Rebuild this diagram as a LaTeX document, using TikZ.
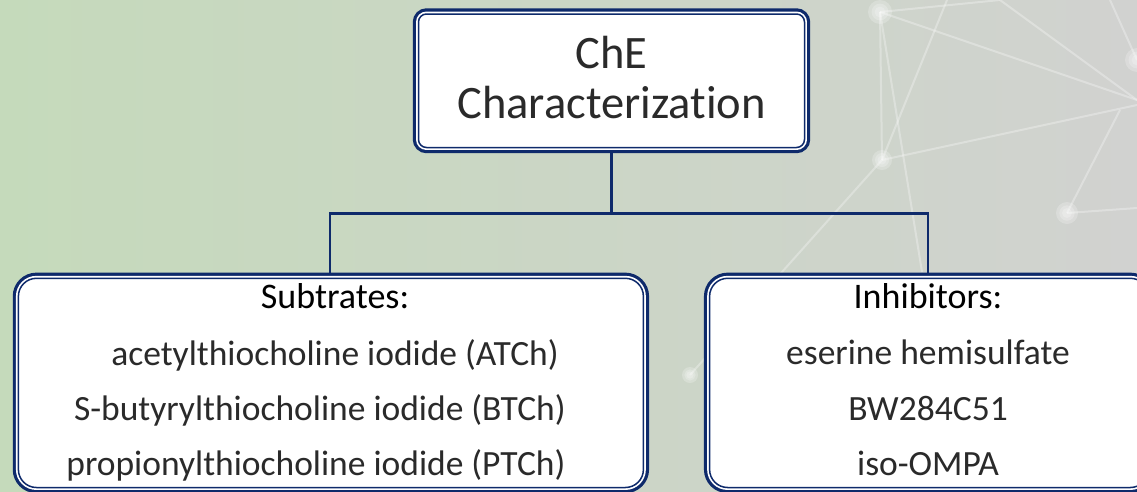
\documentclass[tikz,border=0pt]{standalone}
\usepackage{fontspec}
\setmainfont{Carlito}[Ligatures={NoCommon}]
\definecolor{navy}{HTML}{0E2A6B}
\definecolor{bgL}{HTML}{C5DABB}
\definecolor{bgM}{HTML}{C9D5C2}
\definecolor{bgR}{HTML}{D1D2D0}
\definecolor{bodytext}{HTML}{2A2A2A}
\pgfdeclarelayer{back}
\pgfdeclarelayer{links}
\pgfsetlayers{back,links,main}
\begin{document}
\begin{tikzpicture}[x=1pt,y=-1pt,
  chebox/.style={draw=navy, line width=1.5pt, fill=white, inner sep=0pt,
    preaction={draw=navy, line width=11.3pt},
    preaction={draw=white, line width=4.9pt}},
  link/.style={draw=navy, line width=2.6pt},
  bigtxt/.style={anchor=base, inner sep=0pt, font=\fontsize{46.5}{50}\selectfont, text=bodytext},
  headtxt/.style={anchor=base, inner sep=0pt, font=\fontsize{36}{40}\selectfont, text=black},
  itemtxt/.style={anchor=base, inner sep=0pt, font=\fontsize{35.5}{40}\selectfont, text=bodytext},
  netline/.style={draw=white, line width=2pt, opacity=0.3},
  glow/.style={fill=white, opacity=0.22}
]
\useasboundingbox (0,0) rectangle (1137,491);
\begin{pgfonlayer}{back}
  \shade[left color=bgL, middle color=bgM, right color=bgR] (0,0) rectangle (1137,491);
  % faint network in the background
  \draw[netline] (880,12) -- (1137,100);
  \draw[netline] (882,160) -- (1137,105);
  \draw[netline] (880,12) -- (922,272);
  \draw[netline] (880,12) -- (882,160);
  \draw[netline] (882,160) -- (690,375);
  \draw[netline] (947,0) -- (882,160);
  \draw[netline] (1067,213) -- (1137,208);
  \draw[netline] (1067,213) -- (1120,110);
  \draw[netline] (1000,0) -- (1137,100);
  \draw[netline] (1110,0) -- (1137,60);
  \draw[netline] (880,12) -- (1000,0);
  \foreach \px/\py/\r in {880/12/12, 882/160/10, 1067/213/11, 690/375/8, 1137/60/12}{
    \fill[glow] (\px,\py) circle (\r);
    \fill[glow] (\px,\py) circle (0.7*\r);
    \fill[glow] (\px,\py) circle (0.45*\r);
  }
\end{pgfonlayer}

% boxes
\node[chebox, rounded corners=8pt, minimum width=386pt, minimum height=133.5pt] (top) at (611.5,80.75) {};
\node[chebox, rounded corners=18pt, minimum width=625pt, minimum height=209.2pt] (sub) at (330.9,382.9) {};
\node[chebox, rounded corners=18pt, minimum width=438.8pt, minimum height=209.2pt] (inh) at (929,382.9) {};

% connectors
\begin{pgfonlayer}{links}
  \coordinate (split) at (611.5,213.5);
  \draw[link] (top.south) -- (split);
  \draw[link] (split) -| (sub.north -| 330,0);
  \draw[link] (split) -| (inh.north -| 928,0);
\end{pgfonlayer}

% texts
\node[bigtxt] (t1) at (611.5,68.5) {ChE};
\node[bigtxt] (t2) at (611.5,118.5) {Characterization};

\node[headtxt] (s0) at (335,308) {Subtrates:};
\node[itemtxt] (s1) at (335,365) {acetylthiocholine iodide (ATCh)};
\node[itemtxt] (s2) at (320,420) {S-butyrylthiocholine iodide (BTCh)};
\node[itemtxt] (s3) at (316,475) {propionylthiocholine iodide (PTCh)};

\node[headtxt] (i0) at (928,308) {Inhibitors:};
\node[itemtxt] (i1) at (928,364) {eserine hemisulfate};
\node[itemtxt] (i2) at (928,420) {BW284C51};
\node[itemtxt] (i3) at (928,475) {iso-OMPA};
\end{tikzpicture}
\end{document}
